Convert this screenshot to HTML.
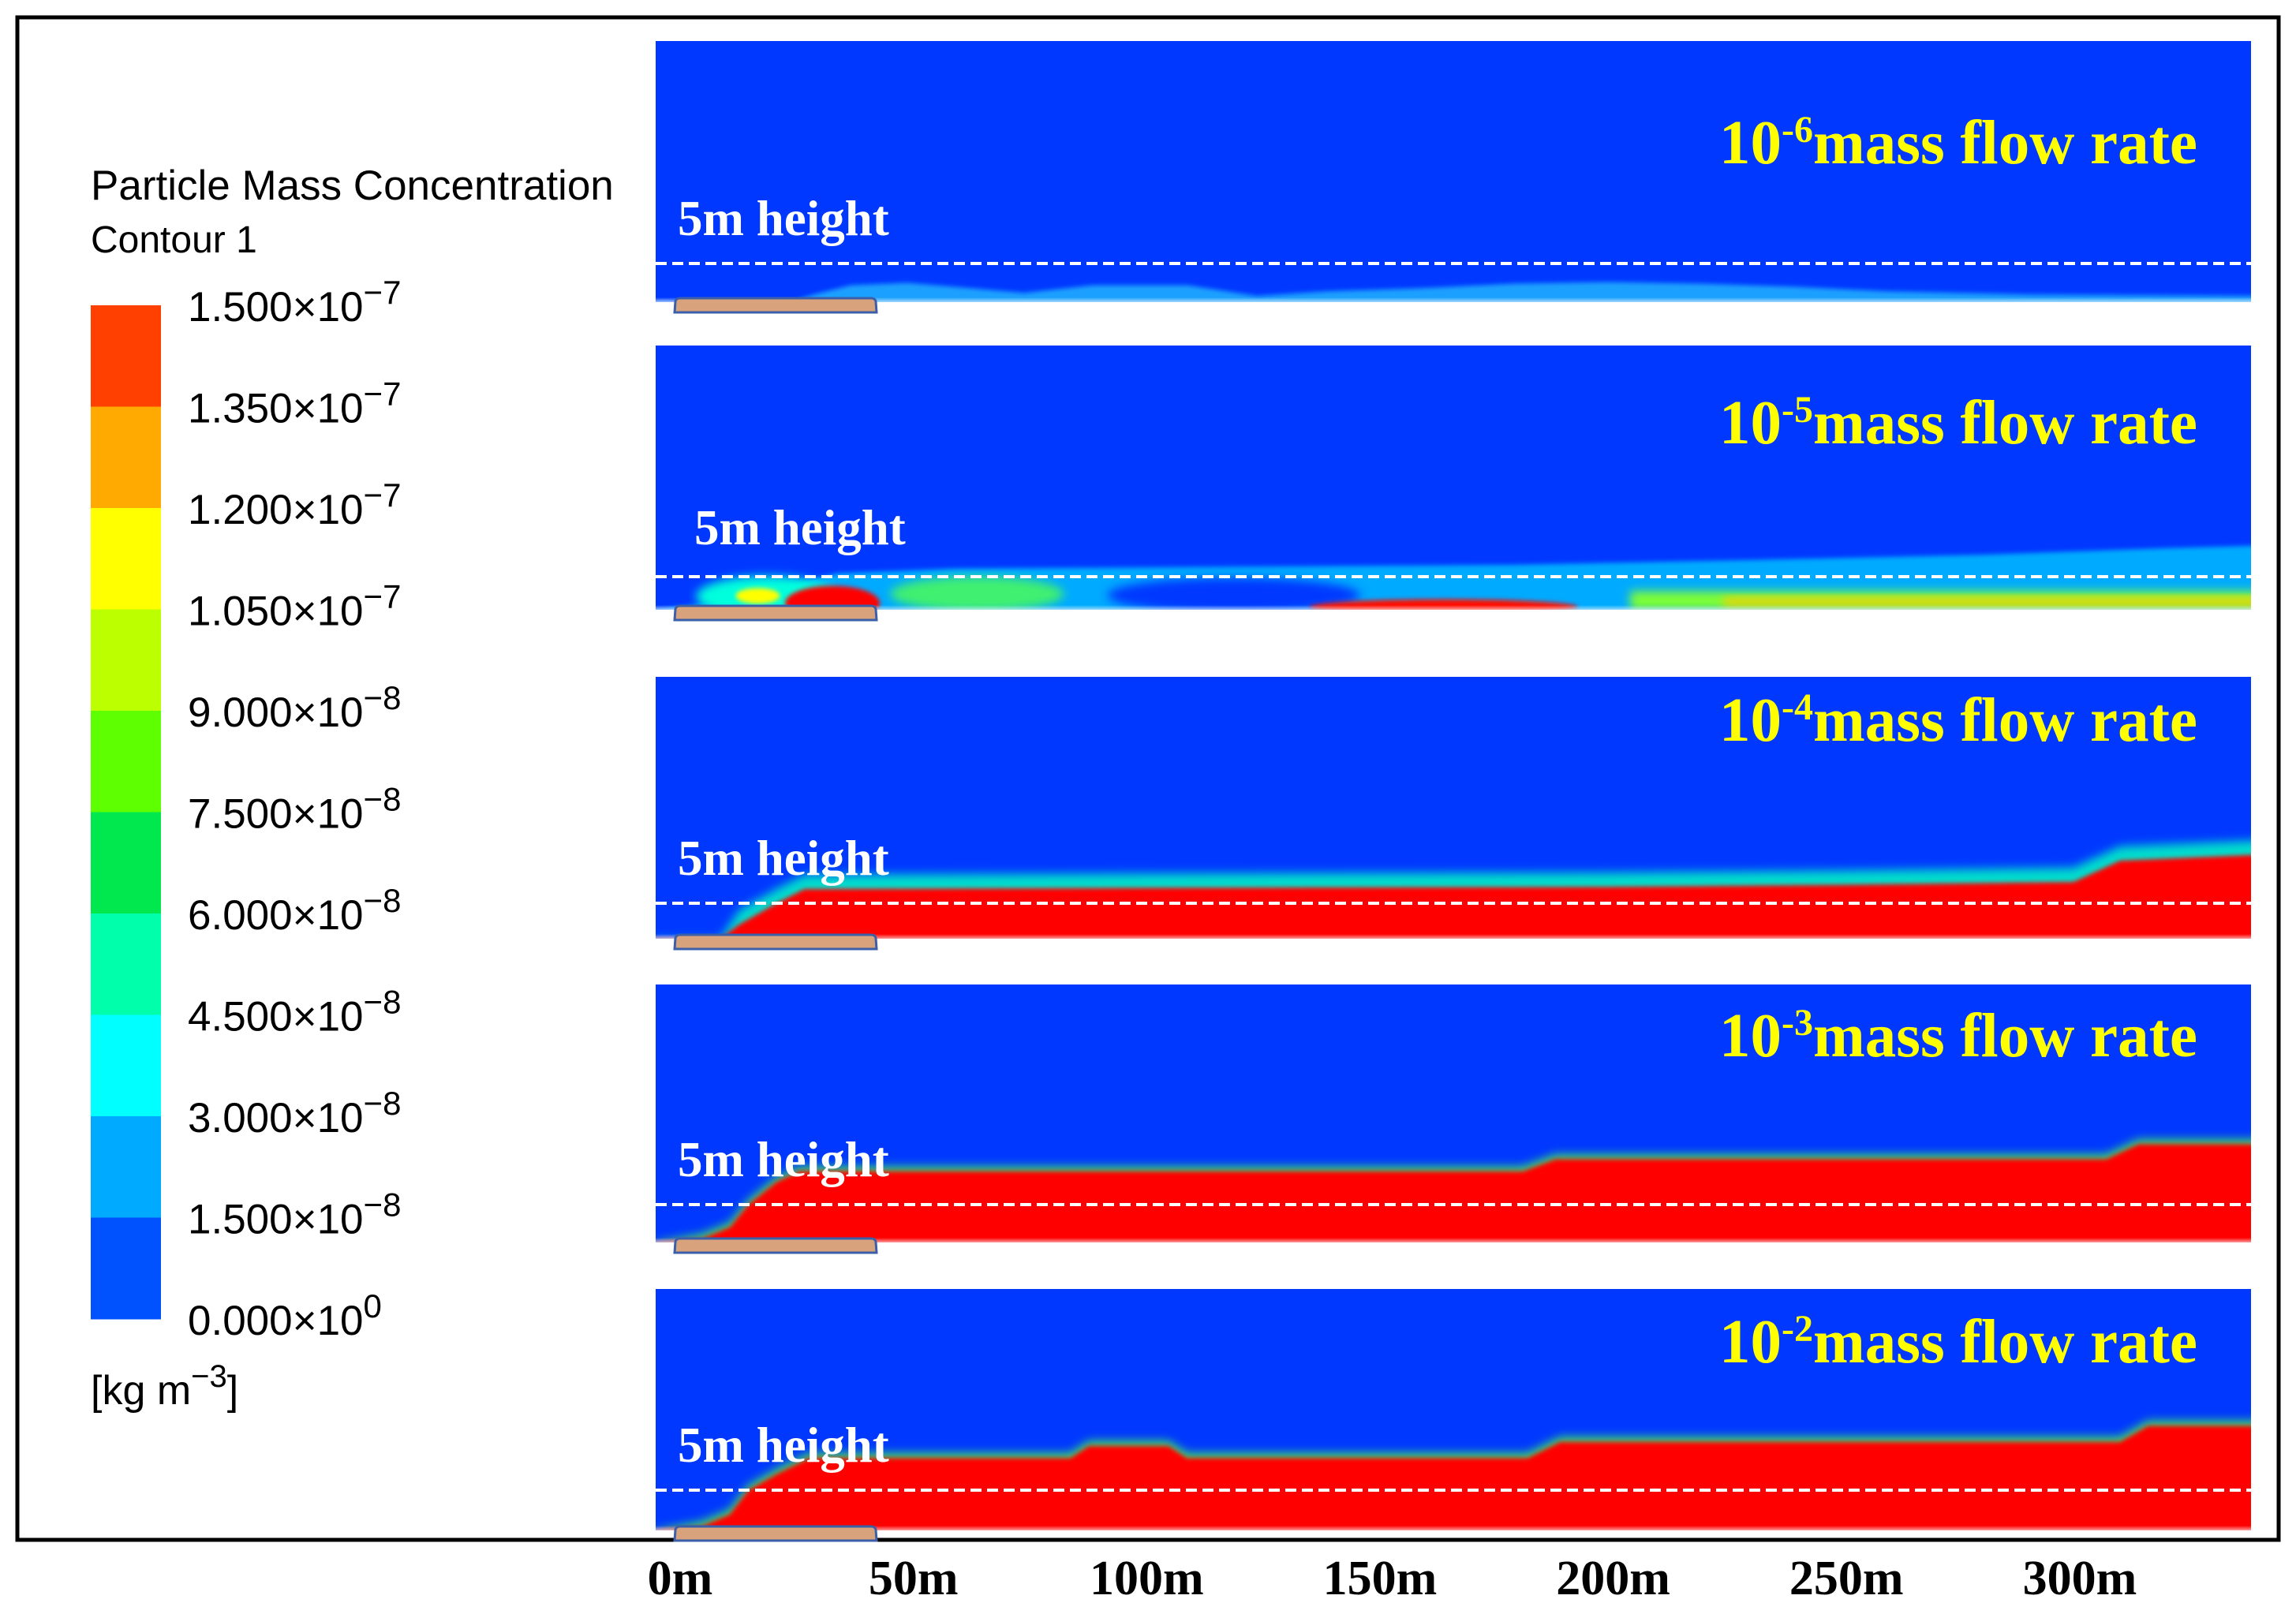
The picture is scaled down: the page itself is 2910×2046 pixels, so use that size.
<!DOCTYPE html>
<html><head><meta charset="utf-8"><style>
body{margin:0;background:#fff}
svg{display:block}
.ser{font-family:"Liberation Serif",serif;font-weight:bold}
.san{font-family:"Liberation Sans",sans-serif}
</style></head><body>
<svg id="fig" width="2910" height="2046" viewBox="0 0 2910 2046" xmlns="http://www.w3.org/2000/svg">
<defs>
<filter id="blur" x="-5%" y="-50%" width="110%" height="200%"><feGaussianBlur stdDeviation="6"/></filter>
<filter id="blur2" x="-5%" y="-50%" width="110%" height="200%"><feGaussianBlur stdDeviation="3"/></filter>
<linearGradient id="fade" x1="0" y1="0" x2="0" y2="1"><stop offset="0" stop-color="#fff" stop-opacity="0"/><stop offset="1" stop-color="#fff" stop-opacity="1"/></linearGradient>
</defs>
<rect x="22" y="22" width="2866" height="1930" fill="none" stroke="#000" stroke-width="5"/>
<g id="legend"></g>
<g id="panels"></g>
<g id="xaxis"></g>
</svg>
<script>
const NS="http://www.w3.org/2000/svg";
// legend data
const legendLabels=["1.500","1.350","1.200","1.050","9.000","7.500","6.000","4.500","3.000","1.500","0.000"];
const legendExps=["-7","-7","-7","-7","-8","-8","-8","-8","-8","-8","0"];
const legendColors=["#ff4000","#ffaa00","#ffff00","#bbff00","#5eff00","#00e84e","#00ffaa","#00ffff","#00aaff","#0052ff"];
// axis data
const tickLabels=["0m","50m","100m","150m","200m","250m","300m"];
const tickMeters=[0,50,100,150,200,250,300];
// panel data
const panelExps=["-6","-5","-4","-3","-2"];
// red plume profiles (metres along, metres high)
const p3X=[-8,10,14,22,28,120,200,250,300,310,345];
const p3H=[0,0,2,5,7,7.2,7.3,7.6,8,11,12];
const p4X=[-8,6,12,16,22,27,182,189,307,314,345];
const p4H=[0,0.5,2,5,8,9.4,9.4,11,11,13,13];
const p5X=[-8,6,12,16,22,29,85,89,106,110,183,190,310,316,345];
const p5H=[0,0.5,2,5,7,9,9,10.5,10.5,9,9,11,11,13,13];
// panel 2 light layer and panel 1 patches
const p2X=[-8,8,20,35,60,120,180,230,280,320,345];
const p2H=[0,1,3,5.5,6.2,6.5,6.8,7.5,8.3,9.3,9.8];
const p1X=[-8,25,30,38,50,60,75,90,110,125,140,160,180,200,220,240,260,290,345];
const p1H=[0,0,1,2.2,2.5,2,1.2,2.2,2.2,0.8,1.4,1.8,2.4,2.6,2.4,2,1.4,1,0.8];

const plotL=831,plotR=2853;
const xS=m=>854+m*5.913;
const panels=[
 {top:52,bot:383,dash:334,ty:180},
 {top:438,bot:773,dash:731,ty:535},
 {top:858,bot:1190,dash:1145,ty:912},
 {top:1248,bot:1575,dash:1527,ty:1312},
 {top:1634,bot:1940,dash:1889,ty:1700}];

function el(tag,attrs,parent,name,text){
 const e=document.createElementNS(NS,tag);
 for(const k in attrs)e.setAttribute(k,attrs[k]);
 
 
 if(text!==undefined)e.textContent=text;
 parent.appendChild(e);return e;
}
function poly(xs,hs,p,extra,parent,name,fill,filt){
 const k=(p.bot-p.dash)/5;
 let d=`M${plotL},${p.bot+4}`;
 xs.forEach((x,i)=>{const X=Math.max(plotL,xS(x));const h=hs[i]>0?hs[i]+extra:0;d+=` L${X},${p.bot-h*k}`;});
 d+=` L${Math.max(plotR+40,xS(xs[xs.length-1]))},${p.bot+4} Z`;
 const a={d:d,fill:fill};if(filt)a.filter=filt;
 return el('path',a,parent,name);
}
// legend
const lg=document.getElementById('legend');
el('text',{x:115,y:253,'font-size':53,class:'san',fill:'#000'},lg,'legend-title','Particle Mass Concentration');
el('text',{x:115,y:320,'font-size':48,class:'san',fill:'#000'},lg,'legend-subtitle','Contour 1');
const bandH=(1672-387)/legendColors.length;
legendColors.forEach((c,i)=>{el('rect',{x:115,y:387+i*bandH,width:89,height:bandH+0.5,fill:c},lg,'legend-band');});
legendLabels.forEach((l,i)=>{
 const t=el('text',{x:238,y:387+i*bandH+20,'font-size':53,class:'san',fill:'#000'},lg,'legend-label');
 t.appendChild(document.createTextNode(l+"\u00d710"));
 const s=document.createElementNS(NS,'tspan');s.setAttribute('dy','-22');s.setAttribute('font-size','42');s.textContent=legendExps[i].replace('-','\u2212');t.appendChild(s);
});
const u=el('text',{x:115,y:1780,'font-size':52,class:'san',fill:'#000'},lg,'legend-units');
u.appendChild(document.createTextNode('[kg m'));
{const s=document.createElementNS(NS,'tspan');s.setAttribute('dy','-22');s.setAttribute('font-size','40');s.textContent='\u22123';u.appendChild(s);
 const s2=document.createElementNS(NS,'tspan');s2.setAttribute('dy','22');s2.textContent=']';u.appendChild(s2);}

// panels
const pg=document.getElementById('panels');
panels.forEach((p,i)=>{
 const g=el('g',{},pg,'panel-'+panelExps[i]);
 const cp=el('clipPath',{id:'cp'+i},g,'panel-clip');
 el('rect',{x:plotL,y:p.top,width:plotR-plotL,height:p.bot-p.top},cp,'clip-rect');
 el('rect',{x:plotL,y:p.top,width:plotR-plotL,height:p.bot-p.top,fill:'#0038ff'},g,'panel-background');
 const c=el('g',{'clip-path':`url(#cp${i})`},g,'contour-field');
 if(i===0){poly(p1X,p1H,p,0,c,'low-concentration-patch','#1aa0ff','url(#blur2)');}
 if(i===1){
  poly(p2X,p2H,p,0,c,'light-layer','#00aaff','url(#blur2)');
  const k=(p.bot-p.dash)/5;
  el('ellipse',{cx:xS(20),cy:p.bot-2*k,rx:90,ry:26,fill:'#00ffdd',filter:'url(#blur)'},c,'cyan-patch');
  el('ellipse',{cx:xS(18),cy:p.bot-2.1*k,rx:28,ry:10,fill:'#ffff00',filter:'url(#blur2)'},c,'yellow-spot');
  el('ellipse',{cx:xS(65),cy:p.bot-2.4*k,rx:110,ry:22,fill:'#40f070',filter:'url(#blur)'},c,'green-patch');
  el('ellipse',{cx:xS(34),cy:p.bot-1*k,rx:60,ry:22,fill:'#ff0000',filter:'url(#blur2)'},c,'red-blob');
  el('ellipse',{cx:xS(120),cy:p.bot-2.2*k,rx:160,ry:22,fill:'#0038ff',filter:'url(#blur)'},c,'blue-gap');
  el('rect',{x:xS(205),y:p.bot-2.8*k,width:plotR-xS(205)+20,height:2.8*k,fill:'#7fff30',filter:'url(#blur)'},c,'green-stripe');
  el('rect',{x:xS(225),y:p.bot-1.8*k,width:plotR-xS(225)+20,height:1.2*k,fill:'#ffcc00',filter:'url(#blur)'},c,'yellow-stripe');
  el('ellipse',{cx:xS(165),cy:p.bot-0.4*k,rx:170,ry:10,fill:'#ff1000',filter:'url(#blur2)'},c,'red-stripe');
 }
 if(i===2){poly(p3X,p3H,p,2,c,'plume-halo','#00ddcc','url(#blur)');poly(p3X,p3H,p,0,c,'plume-core','#ff0000','url(#blur2)');}
 if(i===3){poly(p4X,p4H,p,0.6,c,'plume-halo','#40e060','url(#blur)');poly(p4X,p4H,p,0,c,'plume-core','#ff0000','url(#blur2)');}
 if(i===4){poly(p5X,p5H,p,0.6,c,'plume-halo','#40e060','url(#blur)');poly(p5X,p5H,p,0,c,'plume-core','#ff0000','url(#blur2)');}
 el('rect',{x:plotL,y:p.bot-6,width:plotR-plotL,height:10,fill:'url(#fade)'},g,'bottom-fade');
 el('line',{x1:plotL,x2:plotR,y1:p.dash,y2:p.dash,stroke:'#fff','stroke-width':4,'stroke-dasharray':'14 7'},g,'5m-reference-line');
 el('path',{d:`M855,${p.bot+13} L856,${p.bot-1} Q857,${p.bot-5} 862,${p.bot-5} L1104,${p.bot-5} Q1109,${p.bot-5} 1110,${p.bot-1} L1111,${p.bot+13} Z`,fill:'#d7a27c',stroke:'#3b5fa8','stroke-width':3},g,'road-platform');
 el('text',{x:i===1?880:859,y:(i===1?p.top+252:p.dash-36),'font-size':63,class:'ser',fill:'#fff'},g,'height-label','5m height');
 const tt=el('text',{x:2785,y:p.ty+27,'font-size':79,class:'ser',fill:'#ffff00','text-anchor':'end'},g,'panel-title');
 tt.appendChild(document.createTextNode('10'));
 const sp=document.createElementNS(NS,'tspan');sp.setAttribute('dy','-27');sp.setAttribute('font-size','48');sp.textContent=panelExps[i];tt.appendChild(sp);
 const sp2=document.createElementNS(NS,'tspan');sp2.setAttribute('dy','27');sp2.textContent='mass flow rate';tt.appendChild(sp2);
});
// x axis labels
const xg=document.getElementById('xaxis');
tickLabels.forEach((l,i)=>{el('text',{x:xS(tickMeters[i])+8,y:2021,'font-size':62,class:'ser',fill:'#000','text-anchor':'middle'},xg,'x-tick-label',l);});
</script>
</body></html>
